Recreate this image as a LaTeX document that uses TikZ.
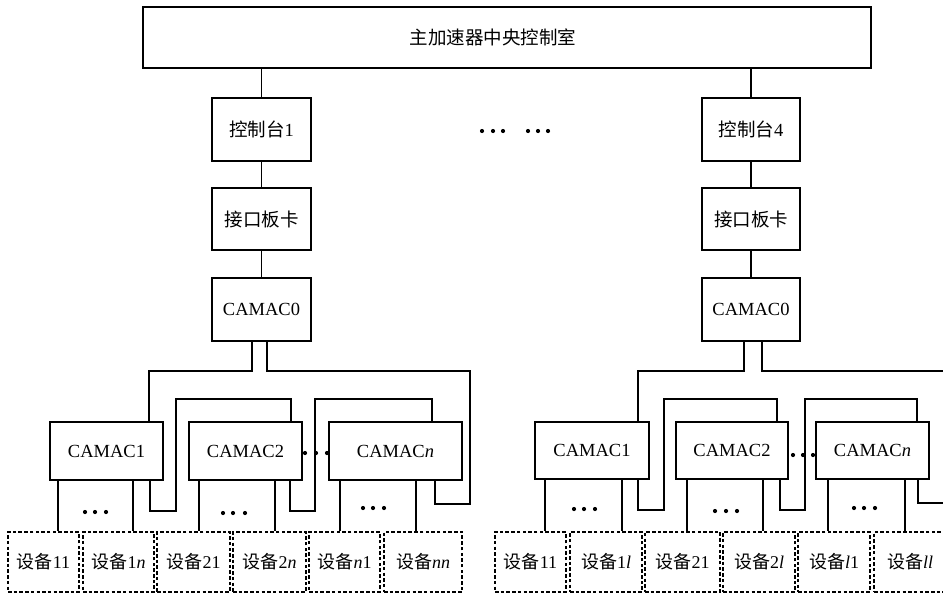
\documentclass[tikz,border=0pt]{standalone}
\usepackage{fontspec}
\setmainfont{Liberation Serif}
\newfontfamily\cjk{Noto Sans CJK SC}
\begin{document}
\begin{tikzpicture}[x=1pt,y=-1pt,
  box/.style={draw,line width=2pt,inner sep=0pt,align=center,font=\fontsize{18.5}{21}\selectfont},
  dev/.style={draw,line width=2pt,dash pattern=on 3.5pt off 2.2pt,inner sep=0pt,minimum height=60pt,font=\fontsize{18}{21}\selectfont},
  wire/.style={line width=1.2pt},
  dotc/.style={fill=black}]
\useasboundingbox (0,0) rectangle (943,595);

% top
\node[box,minimum width=728pt,minimum height=61pt] (top) at (507,37.5) {\hspace*{-28pt}{\cjk 主加速器中央控制室}};

% left column
\node[box,minimum width=99pt,minimum height=63pt] (ctlA) at (261.5,129.5) {{\cjk 控制台}1};
\node[box,minimum width=99pt,minimum height=62pt] (jkA) at (261.5,219) {{\cjk 接口板卡}};
\node[box,minimum width=99pt,minimum height=63pt] (czA) at (261.5,309.5) {CAMAC0};
% right column
\node[box,minimum width=98pt,minimum height=63pt] (ctlB) at (751,129.5) {{\cjk 控制台}4};
\node[box,minimum width=98pt,minimum height=62pt] (jkB) at (751,219) {{\cjk 接口板卡}};
\node[box,minimum width=98pt,minimum height=63pt] (czB) at (751,309.5) {CAMAC0};

\draw[wire] (ctlA.north |- top.south) -- (ctlA.north);
\draw[wire] (ctlA.south) -- (jkA.north);
\draw[wire] (jkA.south) -- (czA.north);
\draw[wire] (ctlB.north |- top.south) -- (ctlB.north);
\draw[wire] (ctlB.south) -- (jkB.north);
\draw[wire] (jkB.south) -- (czB.north);

% top dots
\foreach \x in {482,493,503,528,538,548} \fill[dotc] (\x,131) circle (2.1pt);

% CAMAC crates left
\node[box,minimum width=113pt,minimum height=58pt] (caA) at (106.5,451) {CAMAC1};
\node[box,minimum width=113pt,minimum height=58pt] (cbA) at (245.5,451) {CAMAC2};
\node[box,minimum width=133pt,minimum height=58pt] (cnA) at (395.5,451) {CAMAC\textit{n}};
% right
\node[box,minimum width=114pt,minimum height=57pt] (caB) at (592,450.5) {CAMAC1};
\node[box,minimum width=112pt,minimum height=57pt] (cbB) at (732,450.5) {CAMAC2};
\node[box,minimum width=113pt,minimum height=57pt] (cnB) at (872.5,450.5) {CAMAC\textit{n}};

% devices left
\node[dev,minimum width=71pt] (d11A) at (43.5,562) {{\cjk 设备}11};
\node[dev,minimum width=71pt] (d1nA) at (118.5,562) {{\cjk 设备}1\textit{n}};
\node[dev,minimum width=73pt] (d21A) at (193.5,562) {{\cjk 设备}21};
\node[dev,minimum width=73pt] (d2nA) at (269.5,562) {{\cjk 设备}2\textit{n}};
\node[dev,minimum width=71pt] (dn1A) at (344.5,562) {{\cjk 设备}\textit{n}1};
\node[dev,minimum width=78pt] (dnnA) at (423,562) {{\cjk 设备}\textit{nn}};
% devices right
\node[dev,minimum width=71pt] (d11B) at (530.5,562) {{\cjk 设备}11};
\node[dev,minimum width=72pt] (d1lB) at (606,562) {{\cjk 设备}1\textit{l}};
\node[dev,minimum width=75pt] (d21B) at (682.5,562) {{\cjk 设备}21};
\node[dev,minimum width=72pt] (d2lB) at (759,562) {{\cjk 设备}2\textit{l}};
\node[dev,minimum width=72pt] (dl1B) at (834,562) {{\cjk 设备}\textit{l}1};
\node[dev,minimum width=86pt] (dllB) at (917,562) {\hspace*{-14pt}{\cjk 设备}\textit{ll}};

% x helper coordinates
\foreach \x in {252,267,149,150,291,290,432,435,58,133,199,275,340,416,
                744,762,638,777,780,917,918,545,622,687,763,828,905}
  \coordinate (x\x) at (\x,0);

% left wiring
\draw[wire] (x252 |- czA.south) |- (149,371) -- (x149 |- caA.north);
\draw[wire] (x267 |- czA.south) -- (267,371) -- (470,371) -- (470,504) -- (435,504) -- (x435 |- cnA.south);
\draw[wire] (x150 |- caA.south) -- (150,511) -- (176,511) -- (176,399) -- (291,399) -- (x291 |- cbA.north);
\draw[wire] (x290 |- cbA.south) -- (290,511) -- (315,511) -- (315,399) -- (432,399) -- (x432 |- cnA.north);
\draw[wire] (x58 |- caA.south) -- (x58 |- d11A.north);
\draw[wire] (x133 |- caA.south) -- (x133 |- d1nA.north);
\draw[wire] (x199 |- cbA.south) -- (x199 |- d21A.north);
\draw[wire] (x275 |- cbA.south) -- (x275 |- d2nA.north);
\draw[wire] (x340 |- cnA.south) -- (x340 |- dn1A.north);
\draw[wire] (x416 |- cnA.south) -- (x416 |- dnnA.north);

% right wiring
\draw[wire] (x744 |- czB.south) |- (638,371) -- (x638 |- caB.north);
\draw[wire] (x762 |- czB.south) |- (950,371);
\draw[wire] (x638 |- caB.south) -- (638,510) -- (664,510) -- (664,399) -- (777,399) -- (x777 |- cbB.north);
\draw[wire] (x780 |- cbB.south) -- (780,510) -- (805,510) -- (805,399) -- (917,399) -- (x917 |- cnB.north);
\draw[wire] (x918 |- cnB.south) |- (950,503);
\draw[wire] (x545 |- caB.south) -- (x545 |- d11B.north);
\draw[wire] (x622 |- caB.south) -- (x622 |- d1lB.north);
\draw[wire] (x687 |- cbB.south) -- (x687 |- d21B.north);
\draw[wire] (x763 |- cbB.south) -- (x763 |- d2lB.north);
\draw[wire] (x828 |- cnB.south) -- (x828 |- dl1B.north);
\draw[wire] (x905 |- cnB.south) -- (x905 |- dllB.north);

% dots
\foreach \x in {85,95,106} \fill[dotc] (\x,512) circle (2.1pt);
\foreach \x in {223,233,245} \fill[dotc] (\x,513) circle (2.1pt);
\foreach \x in {363,373,384} \fill[dotc] (\x,508) circle (2.1pt);
\foreach \x in {305,316,327} \fill[dotc] (\x,453) circle (2.1pt);
\foreach \x in {574,584,595} \fill[dotc] (\x,509) circle (2.1pt);
\foreach \x in {715,726,737} \fill[dotc] (\x,511) circle (2.1pt);
\foreach \x in {854,864,875} \fill[dotc] (\x,508) circle (2.1pt);
\foreach \x in {793,803,813} \fill[dotc] (\x,455) circle (2.1pt);
\end{tikzpicture}
\end{document}
